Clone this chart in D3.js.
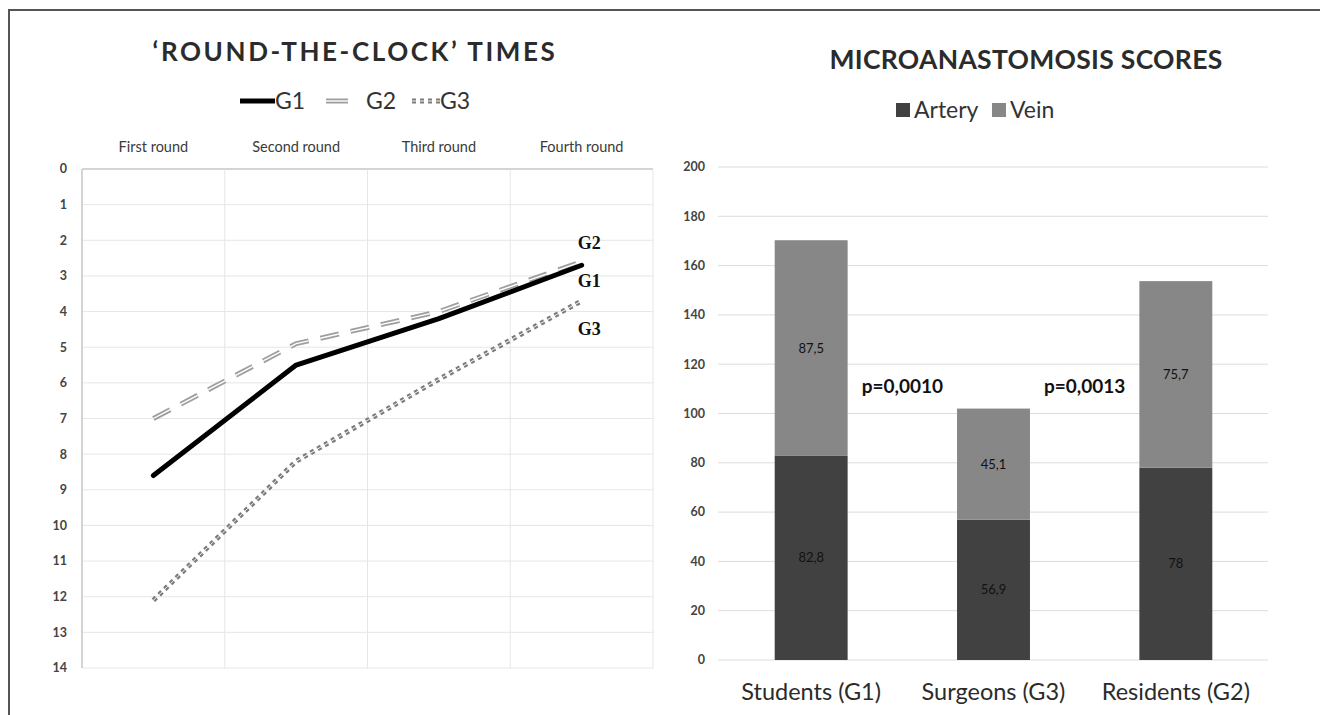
<!DOCTYPE html>
<html>
<head>
<meta charset="utf-8">
<script src="https://cdn.jsdelivr.net/npm/d3@7"></script>
<style>
  body { margin: 0; background: #fff; }
  svg { display: block; }
  text { font-family: Lato, 'Open Sans', sans-serif; }
</style>
</head>
<body>
<svg id="chart" width="1320" height="715"></svg>
<script>
// 'round-the-clock' times per group (y axis runs downwards)
const rounds = ['First round', 'Second round', 'Third round', 'Fourth round'];
const g1Times = [8.6, 5.5, 4.2, 2.7];
const g2Times = [7.0, 4.9, 4.0, 2.6];
const g3Times = [12.1, 8.2, 5.9, 3.7];
const timeTicks = [0, 1, 2, 3, 4, 5, 6, 7, 8, 9, 10, 11, 12, 13, 14];

// microanastomosis scores
const groups = ['Students (G1)', 'Surgeons (G3)', 'Residents (G2)'];
const artery = [82.8, 56.9, 78];
const vein = [87.5, 45.1, 75.7];
const scoreTicks = [0, 20, 40, 60, 80, 100, 120, 140, 160, 180, 200];
const pValues = ['p=0,0010', 'p=0,0013'];

const svg = d3.select('#chart');
const comma = (v) => String(v).replace('.', ',');

// frame (top + left edge only)
svg.append('path')
  .attr('d', 'M9,715V10H1320')
  .attr('fill', 'none')
  .attr('stroke', '#555')
  .attr('stroke-width', 2);

// ---------- left: line chart ----------
const x = d3.scaleBand().domain(rounds).range([82, 653]);
const y = d3.scaleLinear().domain([0, 14]).range([169, 668]);
const cx = (i) => x(rounds[i]) + x.bandwidth() / 2;

const left = svg.append('g').attr('class', 'times');

left.append('text')
  .attr('x', 355).attr('y', 52).attr('dy', '0.35em')
  .attr('text-anchor', 'middle')
  .style('font-size', '26px').style('font-weight', 700)
  .style('letter-spacing', '2.6px')
  .attr('fill', '#2b2b2b')
  .text('\u2018ROUND-THE-CLOCK\u2019 TIMES');

left.selectAll('line.hgrid')
  .data(timeTicks)
  .enter()
  .append('line')
  .attr('class', 'hgrid')
  .attr('x1', 82).attr('x2', 653)
  .attr('y1', d => y(d)).attr('y2', d => y(d))
  .attr('stroke', (d) => d === 0 ? '#d4d4d4' : '#e6e6e6')
  .attr('stroke-width', (d) => d === 0 ? 2 : 1);

const edges = rounds.map(r => x(r)).concat([x.range()[1]]);
left.selectAll('line.vgrid')
  .data(edges)
  .enter()
  .append('line')
  .attr('class', 'vgrid')
  .attr('x1', d => d).attr('x2', d => d)
  .attr('y1', y(0)).attr('y2', y(14))
  .attr('stroke', (d, i) => i === 0 ? '#d4d4d4' : '#e6e6e6')
  .attr('stroke-width', (d, i) => i === 0 ? 2 : 1);

left.selectAll('text.ytick')
  .data(timeTicks)
  .enter()
  .append('text')
  .attr('class', 'ytick')
  .attr('x', 67).attr('y', d => y(d)).attr('dy', '0.35em')
  .attr('text-anchor', 'end')
  .style('font-size', '12.5px').style('font-weight', 700)
  .attr('fill', '#444')
  .text(d => d);

left.selectAll('text.round')
  .data(rounds)
  .enter()
  .append('text')
  .attr('class', 'round')
  .attr('x', (d, i) => cx(i)).attr('y', 147).attr('dy', '0.35em')
  .attr('text-anchor', 'middle')
  .style('font-size', '14.5px')
  .attr('fill', '#3a3a3a')
  .text(d => d);

const line = d3.line().x((d, i) => cx(i)).y(d => y(d));

// one entry per series: main stroke + white core for the double-line look
const series = [
  { name: 'G1', values: g1Times, color: '#000', width: 5, dash: null, core: 0, dy: 15 },
  { name: 'G2', values: g2Times, color: '#9e9e9e', width: 5, dash: '19,12', core: 1.4, dy: -19 },
  { name: 'G3', values: g3Times, color: '#7c7c7c', width: 5, dash: '4,4', core: 0.9, dy: 28 },
];

const drawOrder = [series[2], series[1], series[0]];
drawOrder.forEach((s) => {
  left.append('path')
    .attr('d', line(s.values))
    .attr('fill', 'none')
    .attr('stroke', s.color)
    .attr('stroke-width', s.width)
    .attr('stroke-dasharray', s.dash)
    .attr('stroke-linecap', s.dash ? 'butt' : 'round')
    .attr('stroke-linejoin', 'round');
  if (s.core) {
    left.append('path')
      .attr('d', line(s.values))
      .attr('fill', 'none')
      .attr('stroke', '#fff')
      .attr('stroke-width', s.core)
      .attr('stroke-dasharray', s.dash);
  }
});

// end labels
left.selectAll('text.endlabel')
  .data(series)
  .enter()
  .append('text')
  .attr('class', 'endlabel')
  .attr('x', cx(3) - 4)
  .attr('y', d => y(d.values[3]) + d.dy)
  .attr('dy', '0.35em')
  .style('font-family', "'Liberation Serif', serif")
  .style('font-size', '18px').style('font-weight', 700)
  .attr('fill', '#111')
  .text(d => d.name);

// legend
const legendLeft = [
  { s: series[0], x1: 240, x2: 275, tx: 275 },
  { s: series[1], x1: 326, x2: 348, tx: 366 },
  { s: series[2], x1: 412, x2: 440, tx: 440 },
];
legendLeft.forEach((l) => {
  const path = `M${l.x1},101H${l.x2}`;
  left.append('path')
    .attr('d', path)
    .attr('stroke', l.s.color)
    .attr('stroke-width', l.s.width)
    .attr('stroke-dasharray', l.s.name === 'G3' ? l.s.dash : null);
  if (l.s.core) {
    left.append('path')
      .attr('d', path)
      .attr('stroke', '#fff')
      .attr('stroke-width', l.s.core)
      .attr('stroke-dasharray', l.s.name === 'G3' ? l.s.dash : null);
  }
  left.append('text')
    .attr('x', l.tx).attr('y', 101).attr('dy', '0.35em')
    .style('font-size', '23px')
    .attr('fill', '#333')
    .text(l.s.name);
});

// ---------- right: stacked bars ----------
const table = groups.map((g, i) => ({ group: g, artery: artery[i], vein: vein[i] }));
const keys = ['artery', 'vein'];
const colors = { artery: '#414141', vein: '#878787' };
const labels = { artery: 'Artery', vein: 'Vein' };

const xb = d3.scaleBand().domain(groups).range([720, 1267]).paddingInner(0.6).paddingOuter(0.3);
const yb = d3.scaleLinear().domain([0, 200]).range([660, 167]);

const right = svg.append('g').attr('class', 'scores');

right.append('text')
  .attr('x', 1026).attr('y', 60).attr('dy', '0.35em')
  .attr('text-anchor', 'middle')
  .style('font-size', '26.5px').style('font-weight', 700)
  .style('letter-spacing', '0.3px')
  .attr('fill', '#2b2b2b')
  .text('MICROANASTOMOSIS SCORES');

right.selectAll('line.grid')
  .data(scoreTicks)
  .enter()
  .append('line')
  .attr('class', 'grid')
  .attr('x1', 718).attr('x2', 1268)
  .attr('y1', d => yb(d)).attr('y2', d => yb(d))
  .attr('stroke', '#dcdcdc');

right.selectAll('text.ytick')
  .data(scoreTicks)
  .enter()
  .append('text')
  .attr('class', 'ytick')
  .attr('x', 705).attr('y', d => yb(d)).attr('dy', '0.35em')
  .attr('text-anchor', 'end')
  .style('font-size', '12.5px').style('font-weight', 700)
  .attr('fill', '#444')
  .text(d => d);

const stacked = d3.stack().keys(keys)(table);

const layers = right.selectAll('g.layer')
  .data(stacked)
  .enter()
  .append('g')
  .attr('class', 'layer')
  .attr('fill', d => colors[d.key]);

layers.selectAll('rect')
  .data(d => d)
  .enter()
  .append('rect')
  .attr('x', d => xb(d.data.group))
  .attr('width', xb.bandwidth())
  .attr('y', d => yb(d[1]))
  .attr('height', d => yb(d[0]) - yb(d[1]));

layers.selectAll('text')
  .data(d => d.map(v => ({ v, key: d.key })))
  .enter()
  .append('text')
  .attr('x', d => xb(d.v.data.group) + xb.bandwidth() / 2)
  .attr('y', d => yb((d.v[0] + d.v[1]) / 2))
  .attr('dy', '0.35em')
  .attr('text-anchor', 'middle')
  .style('font-size', '13px')
  .attr('fill', '#111')
  .text(d => comma(d.v.data[d.key]));

right.selectAll('text.group')
  .data(groups)
  .enter()
  .append('text')
  .attr('class', 'group')
  .attr('x', d => xb(d) + xb.bandwidth() / 2)
  .attr('y', 692).attr('dy', '0.35em')
  .attr('text-anchor', 'middle')
  .style('font-size', '23.5px')
  .attr('fill', '#2b2b2b')
  .text(d => d);

// p-values sit in the gaps between neighbouring bars
right.selectAll('text.pval')
  .data(pValues)
  .enter()
  .append('text')
  .attr('class', 'pval')
  .attr('x', (d, i) => (xb(groups[i]) + xb.bandwidth() + xb(groups[i + 1])) / 2)
  .attr('y', yb(111)).attr('dy', '0.35em')
  .attr('text-anchor', 'middle')
  .style('font-size', '19px').style('font-weight', 700)
  .attr('fill', '#111')
  .text(d => d);

// legend
const legendRight = right.append('g').attr('class', 'legend');
const legendPos = [{ key: 'artery', x: 896 }, { key: 'vein', x: 992 }];
legendPos.forEach((l) => {
  legendRight.append('rect')
    .attr('x', l.x).attr('y', 103)
    .attr('width', 14).attr('height', 14)
    .attr('fill', colors[l.key]);
  legendRight.append('text')
    .attr('x', l.x + 18).attr('y', 110).attr('dy', '0.35em')
    .style('font-size', '23px')
    .attr('fill', '#333')
    .text(labels[l.key]);
});
</script>
</body>
</html>
